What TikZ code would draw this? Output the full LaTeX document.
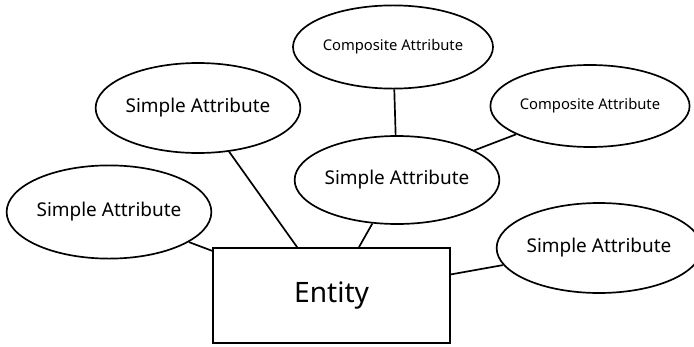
\documentclass[tikz,border=0pt]{standalone}
\usepackage{fontspec}
\setmainfont{Noto Sans}
\usetikzlibrary{shapes.geometric}

\tikzset{
  attr/.style = {draw, ellipse, line width = 1.2pt, inner sep = 0pt, font = \fontsize{13.5}{15}\selectfont},
  comp/.style = {attr, font = \fontsize{10.5}{12}\selectfont},
  entbox/.style = {draw, rectangle, line width = 1.2pt, inner sep = 0pt, font = \fontsize{20}{22}\selectfont},
  link/.style = {line width = 1.2pt}
}

\begin{document}
\begin{tikzpicture} [scale = 1]
\useasboundingbox (0.0, 0.0) rectangle (17.35, 8.65);
\node[comp, minimum width = 5.0cm, minimum height = 2.08cm] (ca1) at (9.825, 7.475){Composite Attribute};
\node[comp, minimum width = 4.98cm, minimum height = 2.05cm] (ca2) at (14.75, 6.0){Composite Attribute};
\node[attr, minimum width = 4.93cm, minimum height = 2.25cm] (sa1) at (4.95, 5.95){Simple Attribute};
\node[attr, minimum width = 4.93cm, minimum height = 2.2cm] (sa2) at (9.925, 4.15){Simple Attribute};
\node[attr, minimum width = 4.95cm, minimum height = 2.33cm] (sa0) at (2.725, 3.35){Simple Attribute};
\node[attr, minimum width = 4.75cm, minimum height = 2.25cm] (sa3) at (14.975, 2.45){Simple Attribute};
\node[entbox, minimum width = 5.93cm, minimum height = 2.38cm] (ent) at (8.29, 1.26){Entity};
\draw[link] (sa0) -- (ent);
\draw[link] (sa1) -- (ent);
\draw[link] (sa2) -- (ent);
\draw[link] (ent) -- (sa3);
\draw[link] (ca1) -- (sa2);
\draw[link] (sa2) -- (ca2);
\end{tikzpicture}
\end{document}
